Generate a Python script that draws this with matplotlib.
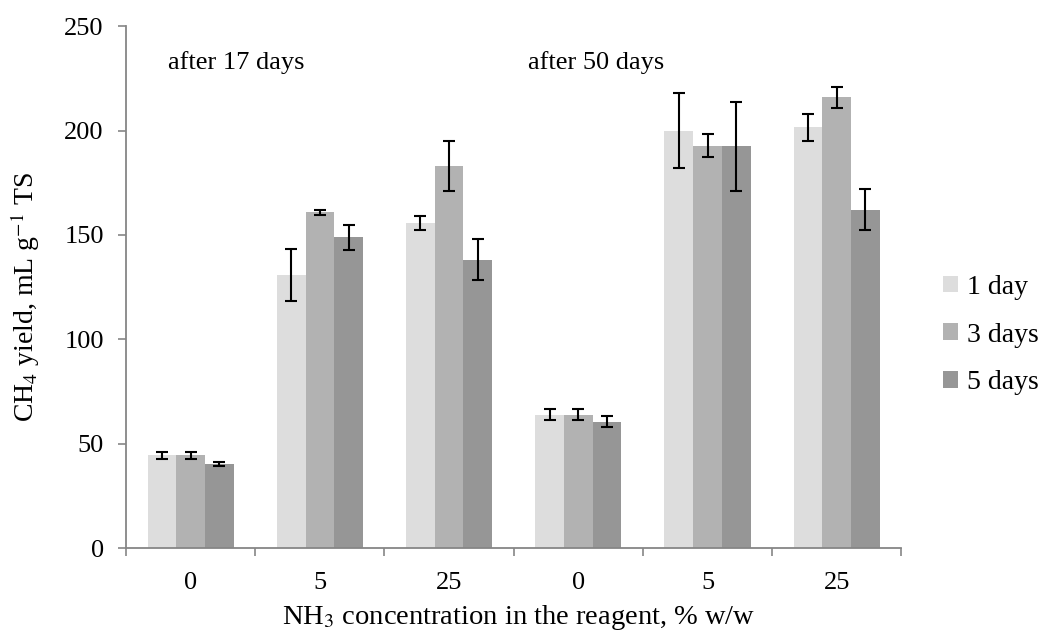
import matplotlib
matplotlib.use("Agg")
import matplotlib.pyplot as plt
import numpy as np
from matplotlib.patches import Patch

plt.rcParams['font.family'] = ['Liberation Serif', 'DejaVu Serif']
plt.rcParams['mathtext.fontset'] = 'stix'

categories = ["0", "5", "25", "0", "5", "25"]
series_names = ["1 day", "3 days", "5 days"]
day1 = [44.4, 130.7, 155.8, 63.9, 200.0, 201.6]
day3 = [44.4, 160.8, 182.9, 63.9, 192.8, 215.9]
day5 = [40.2, 148.8, 138.2, 60.6, 192.5, 162.2]
err1 = [1.5, 12.4, 3.4, 2.7, 17.8, 6.6]
err3 = [1.5, 1.3, 11.9, 2.7, 5.4, 5.0]
err5 = [0.8, 5.8, 9.8, 2.5, 21.2, 9.7]
colors = ["#DDDDDD", "#B2B2B2", "#969696"]

fig = plt.figure(figsize=(10.42, 6.41), dpi=100)
ax = fig.add_axes([0.121, 0.145, 0.744, 0.814])

x = np.arange(len(categories))
w = 0.222
axis_col = "#868686"
for i, (vals, errs) in enumerate(zip([day1, day3, day5], [err1, err3, err5])):
    ax.bar(x + (i - 1) * w, vals, width=w, color=colors[i], edgecolor='none',
           yerr=errs, error_kw=dict(ecolor='black', elinewidth=1.5, capsize=4.5, capthick=1.5),
           label=series_names[i], zorder=2)

ax.set_xlim(-0.5, len(categories) - 0.5)
ax.set_ylim(0, 250)
ax.set_yticks([0, 50, 100, 150, 200, 250])
ax.set_xticks(x)
ax.set_xticklabels(categories)
ax.set_xticks(np.arange(-0.5, len(categories)), minor=True)
ax.tick_params(axis='x', which='major', length=0, labelsize=19, pad=17)
ax.tick_params(axis='x', which='minor', length=6, width=1.2, color=axis_col, direction='out')
ax.tick_params(axis='y', which='major', length=6, width=1.2, color=axis_col, labelsize=19, pad=10)

for s in ['top', 'right']:
    ax.spines[s].set_visible(False)
for s in ['left', 'bottom']:
    ax.spines[s].set_color(axis_col)
    ax.spines[s].set_linewidth(1.3)

fig.text(25 / 1042, 1 - 297 / 641, r"CH$_4$ yield, mL g$^{-1}$ TS", fontsize=20,
         rotation=90, ha='center', va='center')
fig.text(519 / 1042, 1 - 617 / 641, r"NH$_3$ concentration in the reagent, % w/w", fontsize=20.5,
         ha='center', va='center')

ax.text(-0.175, 232.8, "after 17 days", fontsize=19, ha='left', va='center')
ax.text(2.61, 232.8, "after 50 days", fontsize=19, ha='left', va='center')

handles = [Patch(facecolor=c, edgecolor='none') for c in colors]
fig.legend(handles, series_names, loc='center left', bbox_to_anchor=(943 / 1042, 1 - 335 / 641),
           frameon=False, fontsize=20, handlelength=0.55, handleheight=0.55,
           handletextpad=0.3, labelspacing=0.82, borderaxespad=0, borderpad=0)

fig.savefig("out.png", dpi=100)
